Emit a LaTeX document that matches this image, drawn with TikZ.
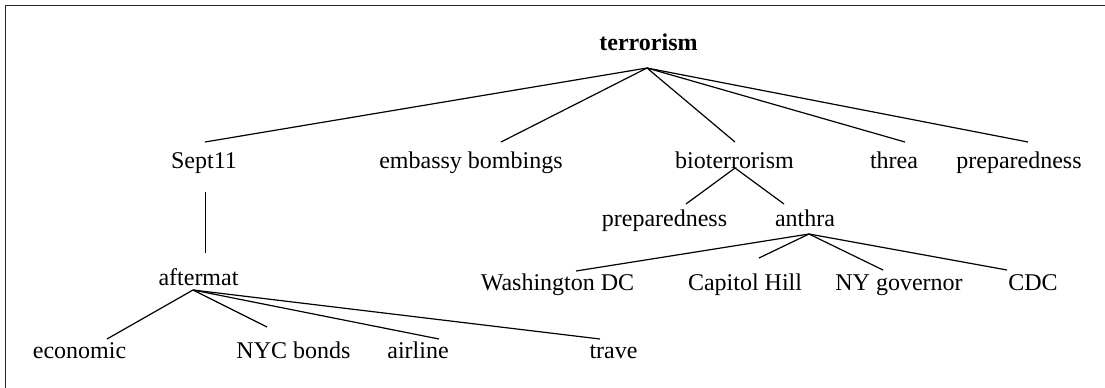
\documentclass[tikz,border=0pt]{standalone}
\usepackage{fontspec}
\setmainfont{Liberation Serif}
\begin{document}
\begin{tikzpicture}[x=0.5pt,y=-0.5pt,
  lbl/.style={anchor=base,inner sep=0pt,font=\fontsize{12}{14}\selectfont},
  edge/.style={line width=0.6pt,black},
  frame/.style={line width=0.8pt,black!85}]
\useasboundingbox (0,0) rectangle (1105,387);
\begin{scope}
\clip (0,0) rectangle (1105,387);
\draw[frame] (5.5,5.5) rectangle (1200,500);
\end{scope}
% labels
\node[lbl,font=\fontsize{12}{14}\selectfont\bfseries] (terrorism) at (648.5,50) {terrorism};
\node[lbl] (sept) at (204,168) {Sept11};
\node[lbl] (emb) at (471,168) {embassy bombings};
\node[lbl] (bio) at (734.5,168) {bioterrorism};
\node[lbl] (threa) at (894,168) {threa};
\node[lbl] (prep) at (1019,168) {preparedness};
\node[lbl] (prepb) at (664.5,226) {preparedness};
\node[lbl] (anthra) at (805,226) {anthra};
\node[lbl] (wdc) at (557.5,290) {Washington DC};
\node[lbl] (cap) at (745,290) {Capitol Hill};
\node[lbl] (nyg) at (899,290) {NY governor};
\node[lbl] (cdc) at (1033,290) {CDC};
\node[lbl] (after) at (198.5,285) {aftermat};
\node[lbl] (econ) at (79.5,358) {economic};
\node[lbl] (nyc) at (293.5,358) {NYC bonds};
\node[lbl] (air) at (418,358) {airline};
\node[lbl] (trave) at (613.5,358) {trave};
% connector ends
\coordinate (terrorism-o) at (647,68);
\coordinate (sept-i) at (205,142);
\coordinate (emb-i) at (501,142);
\coordinate (bio-i) at (735,142);
\coordinate (threa-i) at (905,142);
\coordinate (prep-i) at (1028,142);
\coordinate (bio-o) at (735,168);
\coordinate (prepb-i) at (686,204);
\coordinate (anthra-i) at (784,204);
\coordinate (anthra-o) at (809,234);
\coordinate (wdc-i) at (576,271);
\coordinate (cap-i) at (759,258);
\coordinate (nyg-i) at (883,270);
\coordinate (cdc-i) at (1007,270);
\coordinate (sept-o) at (205.5,192);
\coordinate (after-i) at (205.5,253);
\coordinate (after-o) at (193,290);
\coordinate (econ-i) at (107,339);
\coordinate (nyc-i) at (267,327);
\coordinate (air-i) at (439,339);
\coordinate (trave-i) at (600,339);
% connectors
\foreach \e in {sept-i,emb-i,bio-i,threa-i,prep-i}
  \draw[edge] (terrorism-o) -- (\e);
\foreach \e in {prepb-i,anthra-i}
  \draw[edge] (bio-o) -- (\e);
\foreach \e in {wdc-i,cap-i,nyg-i,cdc-i}
  \draw[edge] (anthra-o) -- (\e);
\draw[edge] (sept-o) -- (after-i);
\foreach \e in {econ-i,nyc-i,air-i,trave-i}
  \draw[edge] (after-o) -- (\e);
\end{tikzpicture}
\end{document}
